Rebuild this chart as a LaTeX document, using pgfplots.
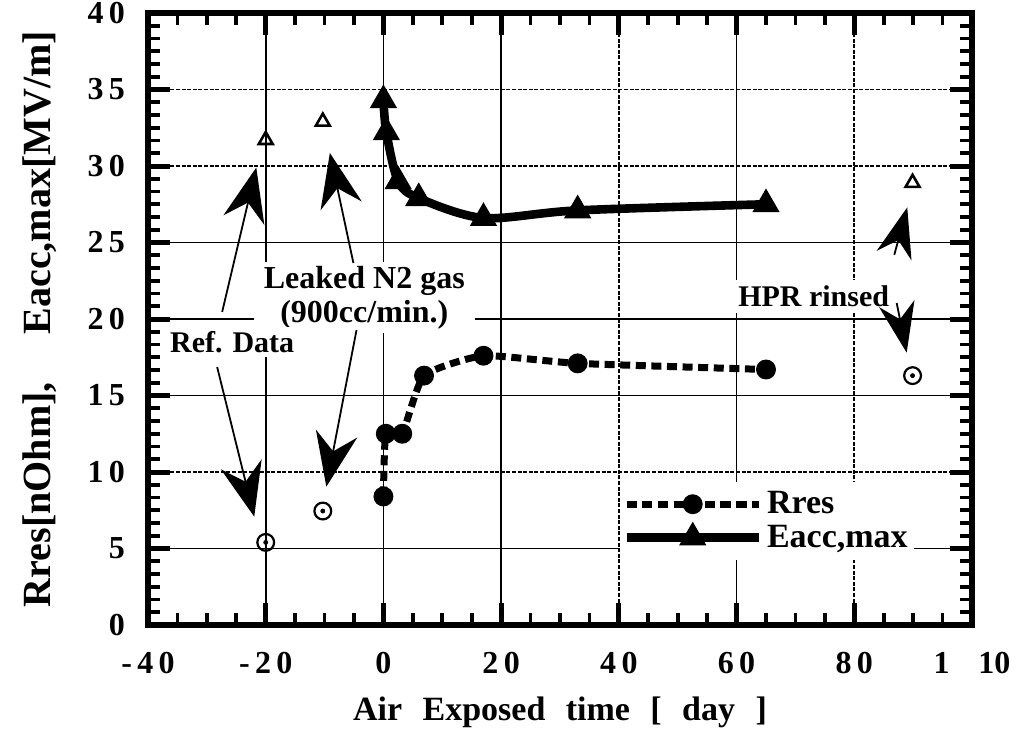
\documentclass[border=0pt]{standalone}
\usepackage{fontspec}
\setmainfont{Liberation Serif}
\usepackage{pgfplots}
\pgfplotsset{compat=1.18}
\usetikzlibrary{arrows.meta}
\begin{document}
\begin{tikzpicture}
\path[use as bounding box] (-74pt,-52.5pt) rectangle (440pt,312.5pt);
\begin{axis}[
  at={(0,0)}, anchor=south west,
  scale only axis, width=412pt, height=306pt,
  xmin=-40, xmax=100, ymin=0, ymax=40,
  xtick={-40,-20,...,100},
  xticklabels={-\,4\,0,-\,2\,0,0,2\,0,4\,0,6\,0,8\,0,1\hspace{0.9em}10},
  ytick={0,5,...,40},
  yticklabels={0,5,1\,0,1\,5,2\,0,2\,5,3\,0,3\,5,4\,0},
  minor x tick num=3, minor y tick num=5,
  tick align=inside,
  major tick length=11pt, minor tick length=6pt,
  tick style={black},
  major tick style={line width=2.5pt},
  minor tick style={line width=1.8pt},
  axis line style={line width=3pt},
  ticklabel style={font=\fontsize{16}{16}\selectfont\bfseries},
  xticklabel style={yshift=-10pt},
  yticklabel style={xshift=-8pt},
  xlabel={Air\hspace{0.6em}Exposed\hspace{0.6em}time\hspace{0.6em}[\hspace{0.6em}day\hspace{0.6em}]},
  ylabel={Rres[nOhm],\hspace{1.2em}Eacc,max[MV/m]},
  x label style={at={(axis description cs:0.5,-0.142)}, anchor=center, font=\fontsize{17}{17}\selectfont\bfseries},
  y label style={at={(axis description cs:-0.131,0.5)}, anchor=center, font=\fontsize{20}{20}\selectfont\bfseries},
  legend style={at={(axis cs:40.2,9.4)}, anchor=north west, draw=none, fill=white,
    font=\fontsize{17}{17}\selectfont\bfseries, row sep=0pt, inner xsep=1pt, inner ysep=3pt},
  legend cell align=left,
  legend image code/.code={\draw[mark repeat=2,mark phase=2,#1] plot coordinates {(0pt,0pt) (33pt,0pt) (66pt,0pt)};},
  clip=false,
]
% grid lines
\draw[line width=0.8pt] (axis cs:-20,0) -- (axis cs:-20,40);
\draw[line width=0.8pt] (axis cs:0,0) -- (axis cs:0,40);
\draw[line width=0.8pt] (axis cs:20,0) -- (axis cs:20,40);
\draw[line width=0.8pt, dash pattern=on 2pt off 0.8pt] (axis cs:40,0) -- (axis cs:40,40);
\draw[line width=0.8pt] (axis cs:60,0) -- (axis cs:60,40);
\draw[line width=0.8pt, dash pattern=on 2pt off 0.8pt] (axis cs:80,0) -- (axis cs:80,40);
\draw[line width=0.8pt] (axis cs:-40,5) -- (axis cs:100,5);
\draw[line width=0.8pt, dash pattern=on 2pt off 0.8pt] (axis cs:-40,10) -- (axis cs:100,10);
\draw[line width=0.8pt] (axis cs:-40,15) -- (axis cs:100,15);
\draw[line width=0.8pt] (axis cs:-40,20) -- (axis cs:100,20);
\draw[line width=0.8pt] (axis cs:-40,25) -- (axis cs:100,25);
\draw[line width=0.8pt, dash pattern=on 2pt off 0.8pt] (axis cs:-40,30) -- (axis cs:100,30);
\draw[line width=0.8pt, dash pattern=on 2pt off 0.8pt] (axis cs:-40,35) -- (axis cs:100,35);
% annotation boxes
\node[fill=white, align=center, inner xsep=5pt, inner ysep=2pt, font=\fontsize{16}{17}\selectfont\bfseries] at (axis cs:-3.25,21.4) {Leaked N2 gas\\(900cc/min.)};
\node[fill=white, inner xsep=2pt, inner ysep=2pt, font=\fontsize{15}{15}\selectfont\bfseries] at (axis cs:-25.7,18.5) {Ref. Data};
\node[fill=white, inner xsep=2pt, inner ysep=3pt, font=\fontsize{15}{15}\selectfont\bfseries] at (axis cs:73.1,21.5) {HPR rinsed};
% data
\addplot[black, line width=3.5pt, dash pattern=on 5pt off 2.8pt, smooth, tension=0.3,
  mark=*, mark size=3.2pt, mark options={solid}]
  coordinates {(0,8.4) (0.4,12.5) (3.2,12.5) (6.9,16.3) (17,17.6) (33,17.1) (65,16.7)};
\addlegendentry{Rres}
\addplot[black, line width=4.3pt, smooth, tension=0.5,
  mark=triangle*, mark size=3.6pt, mark options={solid}]
  coordinates {(0,34.3) (0.5,32.2) (2.5,29) (6,27.9) (17,26.6) (33,27.1) (65,27.5)};
\addlegendentry{Eacc,max}
\addplot[black, only marks, mark=triangle, mark size=4pt, mark options={line width=1.3pt}, forget plot]
  coordinates {(-20,31.7) (-10.3,32.9) (89.9,28.9)};
\addplot[black, only marks, mark=o, mark size=4.2pt, mark options={line width=1.1pt}, forget plot]
  coordinates {(-20,5.4) (-10.3,7.45) (89.9,16.3)};
\addplot[black, only marks, mark=*, mark size=1pt, forget plot]
  coordinates {(-20,5.4) (-10.3,7.45) (89.9,16.3)};
% arrows
\draw[line width=0.9pt, -{Stealth[length=27pt,width=21pt,inset=9pt]}] (axis cs:-27.4,20.46) -- (axis cs:-21.6,29.9);
\draw[line width=0.9pt, -{Stealth[length=27pt,width=21pt,inset=9pt]}] (axis cs:-28.25,16.86) -- (axis cs:-21.95,7.08);
\draw[line width=0.9pt, -{Stealth[length=27pt,width=21pt,inset=9pt]}] (axis cs:-5.1,23.66) -- (axis cs:-9.1,30.85);
\draw[line width=0.9pt, -{Stealth[length=27pt,width=21pt,inset=9pt]}] (axis cs:-4.57,19.28) -- (axis cs:-9.7,9.04);
\draw[line width=0.9pt, -{Stealth[length=25pt,width=18pt,inset=8pt]}] (axis cs:86.8,24.2) -- (axis cs:89.0,27.3);
\draw[line width=0.9pt, -{Stealth[length=25pt,width=18pt,inset=8pt]}] (axis cs:87.2,21.05) -- (axis cs:88.9,17.8);
\end{axis}
\end{tikzpicture}
\end{document}
